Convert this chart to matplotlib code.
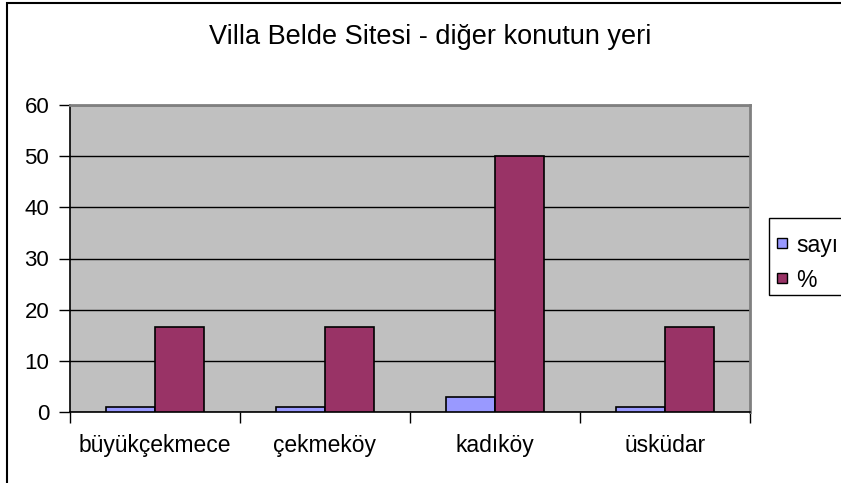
import matplotlib
matplotlib.use("Agg")
import matplotlib.pyplot as plt
from matplotlib.patches import Rectangle
import numpy as np

plt.rcParams['font.family'] = ['Liberation Sans', 'DejaVu Sans']

categories = ["büyükçekmece", "çekmeköy", "kadıköy", "üsküdar"]
sayi = [1, 1, 3, 1]
yuzde = [16.67, 16.67, 50, 16.67]
series_names = ["sayı", "%"]
series_colors = ["#9999FF", "#993366"]
y_ticks = [0, 10, 20, 30, 40, 50, 60]

W, H = 841, 483
fig = plt.figure(figsize=(W / 100, H / 100), dpi=100)
fig.patch.set_facecolor("white")

# chart frame (extends past the right/bottom edges)
fig.patches.append(Rectangle((7 / W, -0.1), 1.2, (H - 3) / H + 0.1,
                             transform=fig.transFigure, fill=False,
                             edgecolor="black", linewidth=1.5, zorder=0))

left, right, top, bottom = 70, 750, 105, 412
ax = fig.add_axes([left / W, (H - bottom) / H, (right - left) / W, (bottom - top) / H])
ax.set_facecolor("#C0C0C0")

x = np.arange(len(categories)) + 0.5
bw = 0.288
ax.bar(x - bw / 2, sayi, width=bw, color=series_colors[0], edgecolor="black",
       linewidth=1.2, zorder=3)
ax.bar(x + bw / 2, yuzde, width=bw, color=series_colors[1], edgecolor="black",
       linewidth=1.2, zorder=3)

ax.set_xlim(0, len(categories))
ax.set_ylim(0, 60)
ax.set_yticks(y_ticks)
ax.set_yticklabels([str(v) for v in y_ticks], fontsize=16)
ax.yaxis.grid(True, color="black", linewidth=1, zorder=1)
ax.set_axisbelow(True)

ax.set_xticks(np.arange(len(categories) + 1))
ax.set_xticklabels([])
ax.set_xticks(x, minor=True)
ax.set_xticklabels(categories, minor=True, fontsize=16.5)
ax.tick_params(axis="x", which="major", direction="out", length=8, width=1, color="black")
ax.tick_params(axis="x", which="minor", length=0, pad=16)
ax.tick_params(axis="y", direction="out", length=8, width=1, color="black", pad=7)

for s in ["top", "right"]:
    ax.spines[s].set_color("#808080")
    ax.spines[s].set_linewidth(2)
for s in ["left", "bottom"]:
    ax.spines[s].set_color("black")
    ax.spines[s].set_linewidth(1.2)

fig.text(430 / W, 1 - 37 / H, "Villa Belde Sitesi - diğer konutun yeri",
         ha="center", va="center", fontsize=19.5)

# legend box, clipped by the right edge of the figure
fig.patches.append(Rectangle((769 / W, 1 - 295 / H), 100 / W, 77 / H,
                             transform=fig.transFigure, facecolor="white",
                             edgecolor="black", linewidth=1, zorder=5))
for i, (name, col) in enumerate(zip(series_names, series_colors)):
    yc = 243 + 35 * i
    fig.patches.append(Rectangle((777 / W, 1 - (yc + 5) / H), 10 / W, 10 / H,
                                 transform=fig.transFigure, facecolor=col,
                                 edgecolor="black", linewidth=1, zorder=6))
    fig.text(796 / W, 1 - yc / H, name, ha="left", va="center_baseline",
             fontsize=16.5, zorder=7)

fig.savefig("out.png", dpi=100)
